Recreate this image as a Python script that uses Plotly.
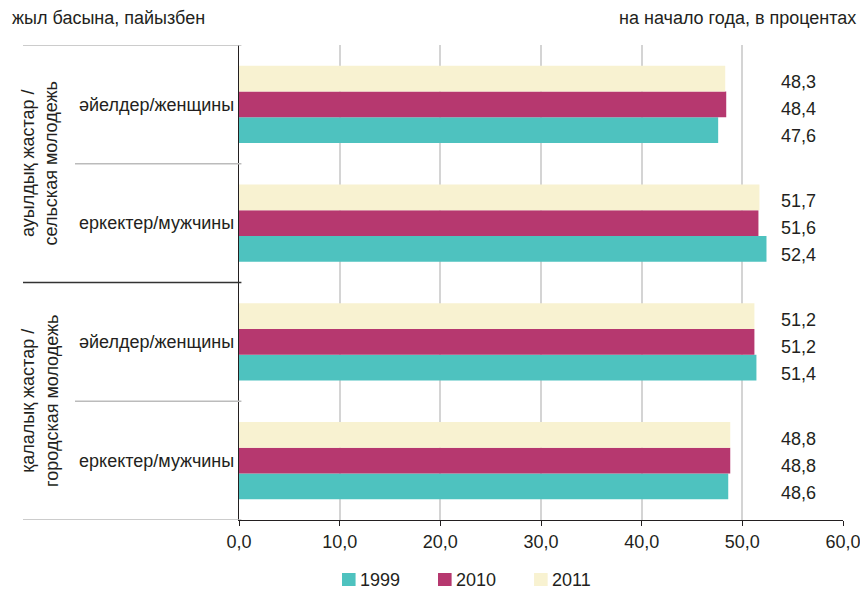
import plotly.graph_objects as go

# categories, bottom to top
groups = ['қалалық жастар /<br>городская молодежь', 'ауылдық жастар /<br>сельская молодежь']
categories = ['еркектер/мужчины', 'әйелдер/женщины', 'еркектер/мужчины', 'әйелдер/женщины']
years = ['1999', '2010', '2011']
v1999 = [48.6, 51.4, 52.4, 47.6]
v2010 = [48.8, 51.2, 51.6, 48.4]
v2011 = [48.8, 51.2, 51.7, 48.3]
colors = ['#4ec2bf', '#b6386f', '#f8f2d1']

TEXT = '#231f20'
FONT = 'Liberation Sans, Arial, sans-serif'
FS = 18
BAR_W = 0.217

fig = go.Figure()
pos = list(range(len(categories)))
for name, vals, col in zip(years, [v1999, v2010, v2011], colors):
    fig.add_trace(go.Bar(
        x=vals, y=pos, name=name, orientation='h',
        marker=dict(color=col, line=dict(width=0)),
        width=BAR_W, showlegend=False,
    ))

# value labels in a fixed column on the right
for k, vals in enumerate([v1999, v2010, v2011]):
    for i, v in enumerate(vals):
        fig.add_annotation(
            x=55.6, y=i + (k - 1) * 0.228, xref='x', yref='y',
            text=('%.1f' % v).replace('.', ','), showarrow=False,
            xanchor='center', yanchor='middle', yshift=-5,
            font=dict(size=FS, color=TEXT),
        )

# rotated group labels
for g, name in enumerate(groups):
    fig.add_annotation(
        x=-0.33, y=0.5 + 2 * g, xref='paper', yref='y',
        text=name, showarrow=False, textangle=-90,
        xanchor='center', yanchor='middle', align='center',
        font=dict(size=FS, color=TEXT),
    )

# divider lines of the left label area
lines = [(-0.3576, 3.5, '#bbbbbb'), (-0.3576, 1.5, '#333333'), (-0.3576, -0.5, '#bbbbbb'),
         (-0.2715, 2.5, '#bbbbbb'), (-0.2715, 0.5, '#bbbbbb')]
for x0, yv, c in lines:
    fig.add_shape(type='line', xref='paper', yref='y', x0=x0, x1=0.004, y0=yv, y1=yv,
                  line=dict(color=c, width=1.3))

# legend drawn by hand: small square + label
for k, (name, col) in enumerate(zip(years, colors)):
    x0 = 0.1705 + k * 0.159
    fig.add_shape(type='rect', xref='paper', yref='paper',
                  x0=x0, x1=x0 + 0.0225, y0=-0.139, y1=-0.1116,
                  fillcolor=col, line=dict(width=0))
    fig.add_annotation(x=x0 + 0.026, y=-0.126, xref='paper', yref='paper',
                       text=name, showarrow=False, xanchor='left', yanchor='middle',
                       font=dict(size=FS, color=TEXT))

fig.add_annotation(
    x=-0.379, y=1.0, xref='paper', yref='paper', yshift=27,
    text='жыл басына, пайызбен', showarrow=False, xanchor='left', yanchor='middle',
    font=dict(size=FS, color=TEXT),
)
fig.add_annotation(
    x=1.025, y=1.0, xref='paper', yref='paper', yshift=27,
    text='на начало года, в процентах', showarrow=False, xanchor='right', yanchor='middle',
    font=dict(size=FS, color=TEXT),
)

# page body has an 8px margin, so the figure is 8px smaller each way
fig.update_layout(
    width=860, height=582,
    margin=dict(l=231, r=25, t=37, b=70),
    plot_bgcolor='white', paper_bgcolor='white',
    barmode='group', bargap=0.35, bargroupgap=0,
    font=dict(family=FONT, size=FS, color=TEXT),
    showlegend=False,
    separators=',.',
)
fig.update_xaxes(
    range=[0, 60], dtick=10, tickformat='.1f',
    showgrid=True, gridcolor='#d4d4d4', gridwidth=1.5,
    showline=True, linecolor='#231f20', linewidth=1.3,
    ticks='outside', ticklen=5, tickcolor='#231f20',
    zeroline=False, automargin=False,
)
fig.update_yaxes(
    range=[-0.5, 3.5], tickvals=pos, ticktext=categories,
    showgrid=False, zeroline=False,
    showline=True, linecolor='#231f20', linewidth=1.3,
    ticks='', ticklabelstandoff=0, automargin=False,
)

fig.write_html('out.html')
